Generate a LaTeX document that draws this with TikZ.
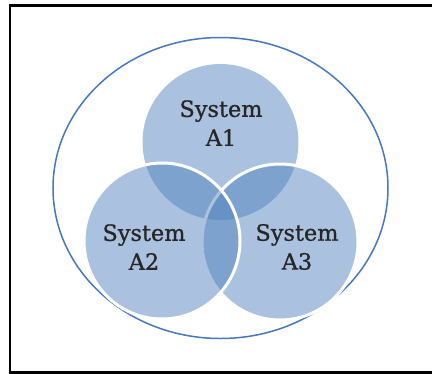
\documentclass[tikz,border=0pt]{standalone}
\usepackage{fontspec}
\setmainfont{DejaVu Serif}
\newfontfamily\setlabelfont{DejaVu Serif}[FakeBold=0.8]
\usetikzlibrary{shapes.geometric}
\begin{document}
\begin{tikzpicture}[x=1bp,y=-1bp,
  setfill/.style={fill=setblue,fill opacity=0.48},
  setline/.style={draw=white,line width=3bp},
  setlabel/.style={text=labelgray,align=center,font=\setlabelfont\fontsize{22.5}{29}\selectfont,inner sep=0pt}]
\definecolor{setblue}{RGB}{79,129,189}
\definecolor{labelgray}{RGB}{38,38,38}
\definecolor{ringblue}{RGB}{70,120,190}
\useasboundingbox (0,0) rectangle (432,374);
\clip (0,0) rectangle (432,374);
\fill[white] (0,0) rectangle (432,374);
% frame
\draw[black,line width=2.2bp] (445,5.5) -- (10,5.5) -- (10,372.5) -- (445,372.5);
% outer ellipse
\node[draw=ringblue,line width=1.5bp,ellipse,minimum width=335bp,minimum height=301bp,inner sep=0pt] (universe) at (220.5,188) {};
% circles
\fill[setfill] (220.5,142) circle[radius=78];
\fill[setfill] (280,242) circle[radius=78];
\draw[setline] (280,242) circle[radius=78];
\fill[setfill] (162,241) circle[radius=78];
\draw[setline] (162,241) circle[radius=78];
% labels
\node[setlabel] (a1) at (221,123) {System\\A1};
\node[setlabel] (a2) at (144,247) {System\\A2};
\node[setlabel] (a3) at (297,247) {System\\A3};
\end{tikzpicture}
\end{document}
